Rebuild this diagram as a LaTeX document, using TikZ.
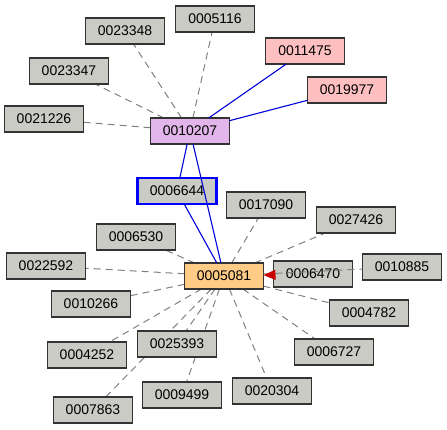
\documentclass[tikz,border=0pt]{standalone}
\usepackage{fontspec}
\setmainfont{Liberation Sans}
\usetikzlibrary{arrows.meta,backgrounds}

\definecolor{boxgray}{RGB}{201,203,196}
\definecolor{boxpurple}{RGB}{226,182,234}
\definecolor{boxpink}{RGB}{253,191,191}
\definecolor{boxorange}{RGB}{255,204,136}
\definecolor{edgegray}{RGB}{128,128,128}
\definecolor{edgered}{RGB}{200,0,0}

\tikzset{
    box/.style={draw=black!80, line width=1.1pt, fill=boxgray, minimum width=79pt,
        minimum height=26pt, inner sep=0pt, outer sep=0pt,
        font=\fontsize{14}{16}\selectfont},
    link/.style={draw=edgegray, line width=1pt, dash pattern=on 7pt off 5pt},
    tie/.style={draw=blue!85!black, line width=1.1pt},
    hit/.style={draw=edgered, line width=1.1pt, -{Triangle[length=12pt,width=10pt]}}
}

\begin{document}
\begin{tikzpicture}[x=1pt, y=-1pt]
        \useasboundingbox (0,0) rectangle (447,430);
        % Nodes
        \node[box] (n23348) at (125,31) {0023348};
        \node[box] (n5116) at (215,19) {0005116};
        \node[box, fill=boxpink] (n11475) at (305,51) {0011475};
        \node[box] (n23347) at (69,71) {0023347};
        \node[box, fill=boxpink] (n19977) at (347,90) {0019977};
        \node[box] (n21226) at (44,119) {0021226};
        \node[box, fill=boxpurple] (n10207) at (190,131) {0010207};
        \node[box, draw=blue, line width=2.6pt] (n6644) at (177,191) {0006644};
        \node[box] (n17090) at (266,205) {0017090};
        \node[box] (n27426) at (356,220) {0027426};
        \node[box] (n6530) at (136,237) {0006530};
        \node[box] (n22592) at (46,266) {0022592};
        \node[box, fill=boxorange] (n5081) at (224,276) {0005081};
        \node[box] (n6470) at (313,274) {0006470};
        \node[box] (n10885) at (402,267) {0010885};
        \node[box] (n10266) at (91,304) {0010266};
        \node[box] (n4782) at (369,313) {0004782};
        \node[box] (n25393) at (177,344) {0025393};
        \node[box] (n6727) at (334,352) {0006727};
        \node[box] (n4252) at (87,355) {0004252};
        \node[box] (n20304) at (272,391) {0020304};
        \node[box] (n9499) at (182,395) {0009499};
        \node[box] (n7863) at (93,410) {0007863};

        % Links
        \begin{scope}[on background layer]
        \foreach \a in {n23348,n5116,n23347,n21226}
            \draw[link] (n10207) -- (\a);
        \foreach \a in {n17090,n27426,n6530,n22592,n10266,n4782,n25393,n6727,n4252,n20304,n9499,n7863}
            \draw[link] (n5081) -- (\a);
        \end{scope}
        \draw[link] (n5081) -- (n10885);

        % Arrows
        \draw[tie] (n10207) -- (n11475);
        \draw[tie] (n10207) -- (n19977);
        \draw[tie] (n10207) -- (n6644);
        \draw[tie] (n10207) -- (n5081);
        \draw[tie] (n6644) -- (n5081);
        \draw[hit] (n6470) -- (n5081);
    \end{tikzpicture}
\end{document}
